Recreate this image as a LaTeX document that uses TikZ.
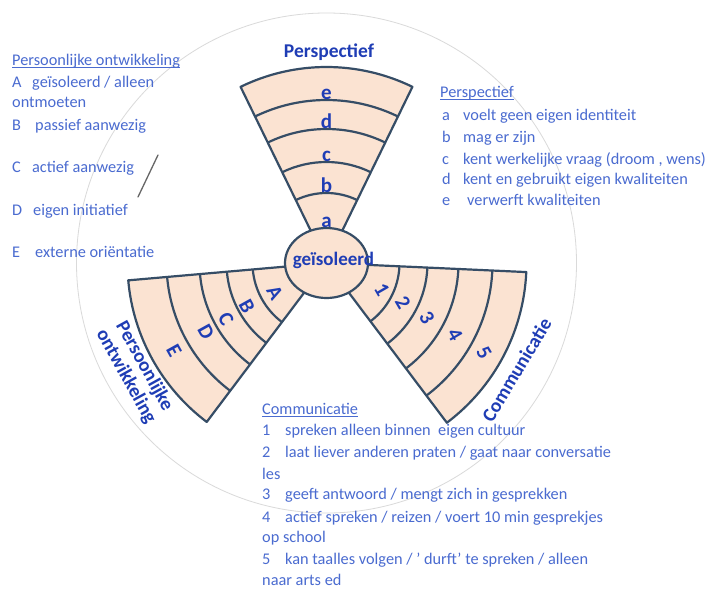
\documentclass[tikz,border=0pt]{standalone}
\usepackage{fontspec}
\setmainfont{Carlito}
\usetikzlibrary{shapes.geometric,calc}
\definecolor{peach}{HTML}{FBE3D2}
\definecolor{sline}{HTML}{364D66}
\definecolor{titleblue}{HTML}{1F3DB5}
\definecolor{listblue}{HTML}{4A6BD0}
\definecolor{ringgray}{HTML}{DADADA}
\begin{document}
\begin{tikzpicture}[x=1pt,y=1pt,
  sectorfill/.style={fill=peach},
  sectorline/.style={draw=sline,line width=2.2pt,line join=round},
  sectitle/.style={font=\fontsize{19.5}{21}\selectfont\bfseries,text=titleblue,inner sep=0pt,align=center},
  secletter/.style={font=\fontsize{21}{24}\selectfont\bfseries,text=titleblue,inner sep=0pt},
  listtext/.style={font=\fontsize{16.3}{20}\selectfont,text=listblue,inner sep=0pt,anchor=mid west},
  uline/.style={draw=listblue,line width=0.9pt},
]
\useasboundingbox (0,0) rectangle (709,-589);
\fill[white] (0,0) rectangle (709,-589);
\coordinate (C) at (326.5,-263);
\draw[ringgray,line width=0.8pt] (C) circle[radius=250pt];
\draw[black!60,line width=1.3pt,line cap=round] (158,-155) -- (138,-197);

\foreach \sa/\ea/\ro/\arcs in {64/116/196/{70,101,134,163},185/233/199/{74,100,127,160},307/357.4/200/{73,101,132,166}}{
  \fill[sectorfill] (C) -- ($(C)+(\sa:\ro pt)$) arc[start angle=\sa,end angle=\ea,radius=\ro pt] -- cycle;
  \foreach \r in \arcs {
    \draw[sectorline] ($(C)+(\sa:\r pt)$) arc[start angle=\sa,end angle=\ea,radius=\r pt];
  }
  \draw[sectorline] (C) -- ($(C)+(\sa:\ro pt)$) arc[start angle=\sa,end angle=\ea,radius=\ro pt] -- cycle;
}

\node[ellipse,draw=sline,line width=2.2pt,fill=peach,minimum width=83pt,minimum height=70pt,inner sep=0pt] (hub) at (C) {};
\node[font=\fontsize{19}{22}\selectfont\bfseries,text=titleblue,inner sep=0pt] (hublabel) at (333.5,-260) {geïsoleerd};

% top sector letters
\node[secletter,anchor=base] (la) at ($(C)+(90:36pt)$) {a};
\node[secletter,anchor=base] (lb) at ($(C)+(90:71pt)$) {b};
\node[secletter,anchor=base] (lc) at ($(C)+(90:102pt)$) {c};
\node[secletter,anchor=base] (ld) at ($(C)+(90:135pt)$) {d};
\node[secletter,anchor=base] (le) at ($(C)+(90:164pt)$) {e};
% left sector letters
\node[secletter,rotate=-61] (lA) at (275,-293) {A};
\node[secletter,rotate=-61] (lB) at (247,-306) {B};
\node[secletter,rotate=-61] (lC) at (226,-319) {C};
\node[secletter,rotate=-61] (lD) at (206,-332) {D};
\node[secletter,rotate=-61] (lE) at (174,-351) {E};
% right sector digits
\node[secletter,rotate=-60] (l1) at (382,-290) {1};
\node[secletter,rotate=-60] (l2) at (403,-303) {2};
\node[secletter,rotate=-60] (l3) at (427,-318) {3};
\node[secletter,rotate=-60] (l4) at (455,-335) {4};
\node[secletter,rotate=-60] (l5) at (484,-353) {5};

% sector titles
\node[sectitle] (tpersp) at (329,-52) {Perspectief};
\node[sectitle,rotate=-61] (tpers) at ($(C)+(209.5:220pt)$) {Persoonlijke\\ontwikkeling};
\node[sectitle,rotate=59] (tcomm) at ($(C)+(-29.3:218pt)$) {Communicatie};

% list: Persoonlijke ontwikkeling
\node[listtext] (h1) at (12,-63) {Persoonlijke ontwikkeling};
\draw[uline] ([yshift=-2.2pt]h1.base west) -- ([yshift=-2.2pt]h1.base east);
\node[listtext] (p1) at (12,-85) {\makebox[20pt][l]{A}geïsoleerd / alleen};
\node[listtext] (p1b) at (12,-105) {ontmoeten};
\node[listtext] (p2) at (12,-128) {\makebox[23pt][l]{B}passief aanwezig};
\node[listtext] (p3) at (12,-170) {\makebox[20pt][l]{C}actief aanwezig};
\node[listtext] (p4) at (12,-213) {\makebox[21pt][l]{D}eigen initiatief};
\node[listtext] (p5) at (12,-255) {\makebox[23pt][l]{E}externe oriëntatie};

% list: Perspectief
\node[listtext] (h2) at (440,-95) {Perspectief};
\draw[uline] ([yshift=-2.2pt]h2.base west) -- ([yshift=-2.2pt]h2.base east);
\node[listtext] (q1) at (442,-118) {\makebox[21pt][l]{a}voelt geen eigen identiteit};
\node[listtext] (q2) at (442,-140) {\makebox[21pt][l]{b}mag er zijn};
\node[listtext] (q3) at (442,-162) {\makebox[21pt][l]{c}kent werkelijke vraag (droom , wens)};
\node[listtext] (q4) at (442,-182) {\makebox[21pt][l]{d}kent en gebruikt eigen kwaliteiten};
\node[listtext] (q5) at (442,-203) {\makebox[25pt][l]{e}verwerft kwaliteiten};

% list: Communicatie
\node[listtext] (h3) at (262,-412) {Communicatie};
\draw[uline] ([yshift=-2.2pt]h3.base west) -- ([yshift=-2.2pt]h3.base east);
\node[listtext] (c1) at (262,-433) {\makebox[23pt][l]{1}spreken alleen binnen~ eigen cultuur};
\node[listtext] (c2) at (262,-455) {\makebox[23pt][l]{2}laat liever anderen praten / gaat naar conversatie};
\node[listtext] (c2b) at (262,-477) {les};
\node[listtext] (c3) at (262,-497) {\makebox[23pt][l]{3}geeft antwoord / mengt zich in gesprekken};
\node[listtext] (c4) at (262,-520) {\makebox[23pt][l]{4}actief spreken / reizen / voert 10 min gesprekjes};
\node[listtext] (c4b) at (262,-540) {op school};
\node[listtext] (c5) at (262,-562) {\makebox[23pt][l]{5}kan taalles volgen / ' durft' te spreken / alleen};
\node[listtext] (c5b) at (262,-583) {naar arts ed};
\end{tikzpicture}
\end{document}
